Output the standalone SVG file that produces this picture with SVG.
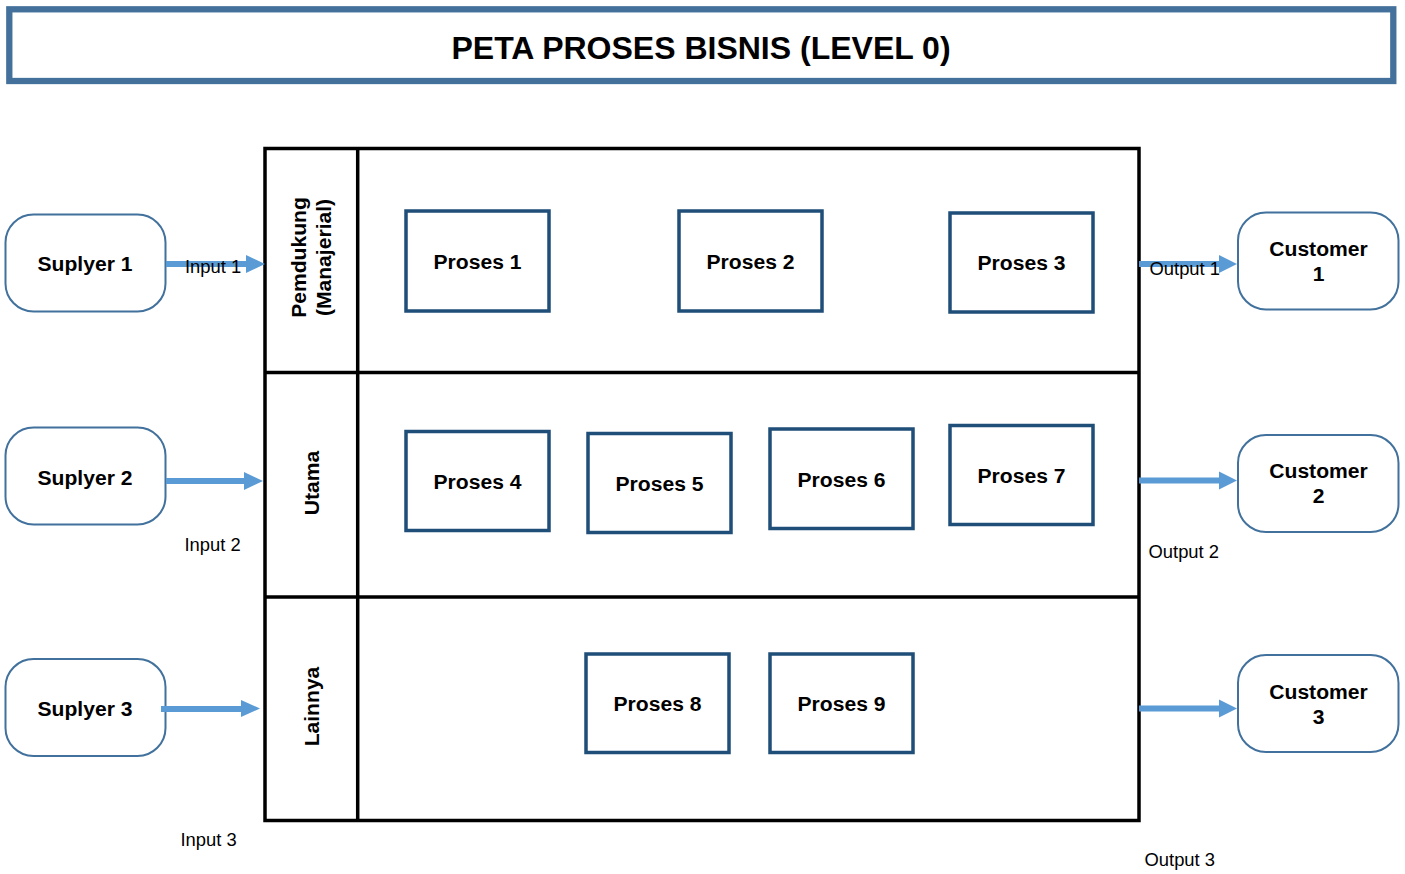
<svg xmlns="http://www.w3.org/2000/svg" width="1405" height="874" viewBox="0 0 1405 874">
<defs>
<style>
text{font-family:"Liberation Sans",Arial,sans-serif;fill:#000}
.b{font-weight:bold;font-size:21.1px}
.n{font-size:18.4px}
.t{font-weight:bold;font-size:32px}
.ext{fill:#fff;stroke:#41719C;stroke-width:2}
.proc{fill:#fff;stroke:#1F4E79;stroke-width:3.5}
.lane{fill:none;stroke:#000;stroke-width:3.5}
.arr{stroke:#5B9BD5;stroke-width:6;fill:none}
.head{fill:#5B9BD5}
</style>
</defs>
<rect width="1405" height="874" fill="#fff"/>
<g id="title">
<rect x="9.3" y="9.3" width="1384" height="71.7" fill="#fff" stroke="#44719C" stroke-width="6.3"/>
<text class="t" x="701" y="59" text-anchor="middle">PETA PROSES BISNIS (LEVEL 0)</text>
</g>
<g id="swimlanes">
<rect class="lane" x="265" y="148.5" width="874" height="672"/>
<line class="lane" x1="357.7" y1="148.5" x2="357.7" y2="820.5"/>
<line class="lane" x1="265" y1="372.5" x2="1139" y2="372.5"/>
<line class="lane" x1="265" y1="597" x2="1139" y2="597"/>
<text class="b" transform="translate(306,257.5) rotate(-90)" text-anchor="middle">Pemdukung</text>
<text class="b" transform="translate(331,257.5) rotate(-90)" text-anchor="middle">(Manajerial)</text>
<text class="b" transform="translate(319,483) rotate(-90)" text-anchor="middle">Utama</text>
<text class="b" transform="translate(318.5,706.5) rotate(-90)" text-anchor="middle">Lainnya</text>
</g>
<g id="suplyer1"><rect class="ext" x="5.5" y="214.5" width="160" height="97" rx="28"/><text class="b" x="85" y="271" text-anchor="middle">Suplyer 1</text></g>
<g id="suplyer2"><rect class="ext" x="5.5" y="427.5" width="160" height="97" rx="28"/><text class="b" x="85" y="485" text-anchor="middle">Suplyer 2</text></g>
<g id="suplyer3"><rect class="ext" x="5.5" y="659" width="160" height="97" rx="28"/><text class="b" x="85" y="716" text-anchor="middle">Suplyer 3</text></g>
<g id="customer1"><rect class="ext" x="1238" y="212.5" width="160.5" height="97" rx="28"/><text class="b" x="1318.5" y="256" text-anchor="middle">Customer</text><text class="b" x="1318.5" y="281" text-anchor="middle">1</text></g>
<g id="customer2"><rect class="ext" x="1238" y="435" width="160.5" height="97" rx="28"/><text class="b" x="1318.5" y="478" text-anchor="middle">Customer</text><text class="b" x="1318.5" y="503" text-anchor="middle">2</text></g>
<g id="customer3"><rect class="ext" x="1238" y="655" width="160.5" height="97" rx="28"/><text class="b" x="1318.5" y="699" text-anchor="middle">Customer</text><text class="b" x="1318.5" y="724" text-anchor="middle">3</text></g>
<g id="proses1"><rect class="proc" x="406" y="211" width="143" height="100"/><text class="b" x="477.5" y="269" text-anchor="middle">Proses 1</text></g>
<g id="proses2"><rect class="proc" x="679" y="211" width="143" height="100"/><text class="b" x="750.5" y="269" text-anchor="middle">Proses 2</text></g>
<g id="proses3"><rect class="proc" x="950" y="213" width="143" height="99"/><text class="b" x="1021.5" y="270" text-anchor="middle">Proses 3</text></g>
<g id="proses4"><rect class="proc" x="406" y="431.5" width="143" height="99"/><text class="b" x="477.5" y="489" text-anchor="middle">Proses 4</text></g>
<g id="proses5"><rect class="proc" x="588" y="433.5" width="143" height="99"/><text class="b" x="659.5" y="491" text-anchor="middle">Proses 5</text></g>
<g id="proses6"><rect class="proc" x="770" y="429" width="143" height="99.5"/><text class="b" x="841.5" y="487" text-anchor="middle">Proses 6</text></g>
<g id="proses7"><rect class="proc" x="950" y="425.5" width="143" height="99"/><text class="b" x="1021.5" y="483" text-anchor="middle">Proses 7</text></g>
<g id="proses8"><rect class="proc" x="586" y="654" width="143" height="98.5"/><text class="b" x="657.5" y="711" text-anchor="middle">Proses 8</text></g>
<g id="proses9"><rect class="proc" x="770" y="654" width="143" height="98.5"/><text class="b" x="841.5" y="711" text-anchor="middle">Proses 9</text></g>
<g id="connectors">
<line class="arr" x1="166" y1="264" x2="248" y2="264"/><polygon class="head" points="246,255 265,264 246,273"/>
<line class="arr" x1="166" y1="481" x2="246" y2="481"/><polygon class="head" points="244,472 263,481 244,490"/>
<line class="arr" x1="161" y1="709" x2="243" y2="709"/><polygon class="head" points="241,700 260,708.5 241,717"/>
<line class="arr" x1="1139" y1="264" x2="1221" y2="264"/><polygon class="head" points="1219,255 1237,264 1219,273"/>
<line class="arr" x1="1139" y1="480.5" x2="1221" y2="480.5"/><polygon class="head" points="1219,471.5 1237,480.5 1219,489.5"/>
<line class="arr" x1="1139" y1="708.5" x2="1221" y2="708.5"/><polygon class="head" points="1219,699.5 1237,708.5 1219,717.5"/>
<text class="n" x="185" y="273">Input 1</text>
<text class="n" x="184.5" y="551">Input 2</text>
<text class="n" x="180.5" y="846">Input 3</text>
<text class="n" x="1149.5" y="275">Output 1</text>
<text class="n" x="1148.5" y="558">Output 2</text>
<text class="n" x="1144.5" y="866">Output 3</text>
</g>
</svg>
